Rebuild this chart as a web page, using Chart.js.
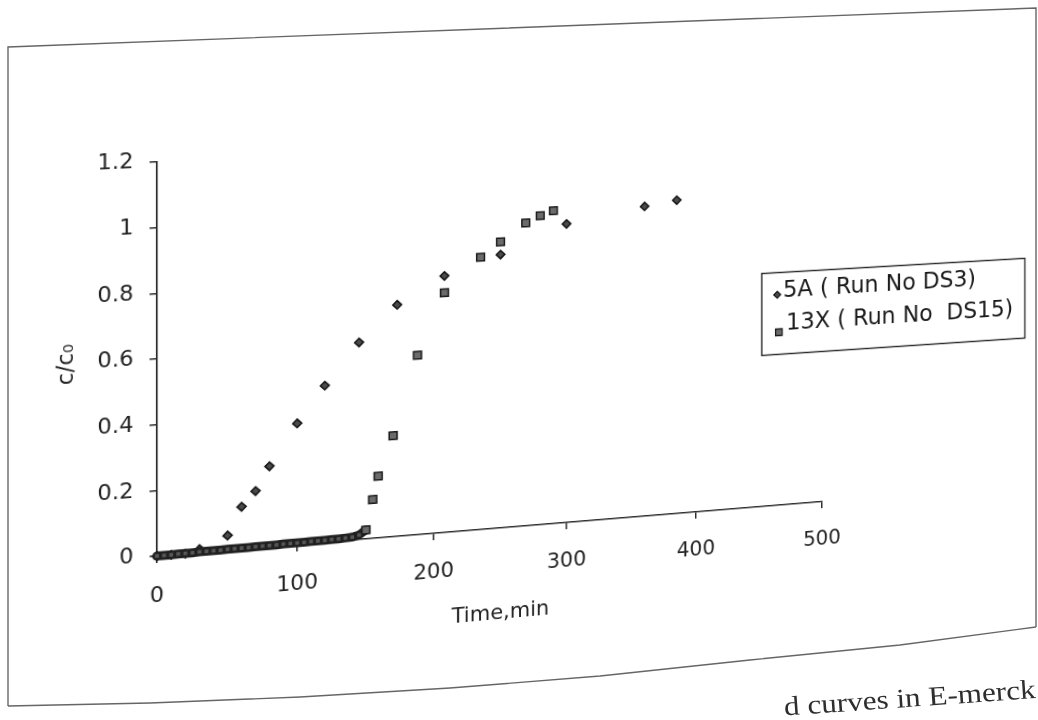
<!DOCTYPE html>
<html>
<head>
<meta charset="utf-8">
<script src="https://cdn.jsdelivr.net/npm/chart.js@4.4.1/dist/chart.umd.min.js"></script>
<style>
  html, body { margin: 0; padding: 0; background: #ffffff; overflow: hidden; width: 1038px; height: 720px; }
  /* the scanned page is photographed at an angle: a projective warp of the whole chart */
  #warp { position: absolute; left: 0; top: 0; width: 1080px; height: 760px; transform-origin: 0 0;
          transform: matrix3d(1.102991, -0.03034, 0, 0.000105199, 0, 1.016515, 0, 0, 0, 0, 1, 0, -13.577, 4.764, 0, 1); }
  #paper { position: absolute; left: 0; top: 0; }
</style>
</head>
<body>
<div id="warp"><canvas id="c" width="1080" height="760"></canvas></div>
<svg id="paper" width="1038" height="720">
  <polyline points="8,706 8,47 1036,8 1036,627" fill="none" stroke="#666" stroke-width="1.4"/>
  <polyline points="1036,627 900,645 750,660 600,676 450,688 300,697 150,703 8,706" fill="none" stroke="#666" stroke-width="1.4"/>
  <text x="1036" y="698" font-family="Liberation Serif, DejaVu Serif, serif" font-size="27" fill="#2e2e2e"
        text-anchor="end" textLength="252" lengthAdjust="spacingAndGlyphs" transform="rotate(-4 1036 698)">d curves in E-merck</text>
</svg>
<script>
// ---- data ----
const seriesNames = ['5A ( Run No DS3)', '13X ( Run No  DS15)'];

const timeDS3 = [0, 10, 20, 30, 50, 60, 70, 80, 100, 120, 145, 173, 208, 250, 300, 360, 385];
const cDS3    = [0, 0, 0, 0.01, 0.045, 0.13, 0.175, 0.248, 0.374, 0.485, 0.612, 0.722, 0.804, 0.861, 0.947, 0.99, 1.005];

const timeDS15 = [0, 5, 10, 15, 20, 25, 30, 35, 40, 45, 50, 55, 60, 65, 70, 75, 80, 85, 90, 95,
                  100, 105, 110, 115, 120, 125, 130, 135, 140, 145,
                  150, 155, 159, 170, 188, 208, 235, 250, 269, 280, 290];
const cDS15    = [0, 0, 0, 0.001, 0.001, 0.001, 0.002, 0.002, 0.002, 0.002,
                  0.003, 0.003, 0.003, 0.003, 0.004, 0.004, 0.004, 0.004, 0.005, 0.005,
                  0.005, 0.005, 0.006, 0.006, 0.006, 0.007, 0.007, 0.008, 0.009, 0.014,
                  0.028, 0.121, 0.192, 0.315, 0.561, 0.751, 0.856, 0.901, 0.957, 0.977, 0.991];

const xTickValues = [0, 100, 200, 300, 400, 500];
const xTickLabels = ['0', '100', '200', '300', '400', '500'];
const yTickValues = [0, 0.2, 0.4, 0.6, 0.8, 1, 1.2];
const yTickLabels = ['0', '0.2', '0.4', '0.6', '0.8', '1', '1.2'];
const xTitle = 'Time,min';
const yTitle = 'c/c\u2080';

// ---- chart ----
const ink = '#232323';
Chart.defaults.font.family = '"DejaVu Sans", "Liberation Sans", sans-serif';
Chart.defaults.color = ink;

const toPoints = (xs, ys) => xs.map((x, i) => ({ x: x, y: ys[i] }));

const diamondFill = '#4a4a4a', diamondEdge = '#111111';
const squareFill = '#6b6b6b', squareEdge = '#1a1a1a';
const bandColor = '#202020';
const bandEnd = 150;   // the dense early 13X readings merge into a thick band
const inBand = c => c.raw && c.raw.x < bandEnd;

const boxLegend = {
  id: 'boxLegend',
  afterDraw(chart) {
    const ctx = chart.ctx;
    ctx.save();
    ctx.strokeStyle = '#2a2a2a';
    ctx.lineWidth = 1.5;
    ctx.strokeRect(758, 308.5, 285.5, 87);
    ctx.font = '24px "DejaVu Sans", sans-serif';
    ctx.textBaseline = 'middle';
    ctx.textAlign = 'left';
    const textX = [780.5, 783.7], textY = [328.5, 364];
    const markX = [774.4, 776.1], markY = [332, 372];
    const fills = [diamondFill, squareFill], edges = [diamondEdge, squareEdge];
    chart.data.datasets.forEach((ds, i) => {
      ctx.fillStyle = fills[i];
      ctx.strokeStyle = edges[i];
      ctx.lineWidth = 1.3;
      ctx.beginPath();
      if (ds.pointStyle === 'rectRot') {
        const r = 3.6;
        ctx.moveTo(markX[i], markY[i] - r);
        ctx.lineTo(markX[i] + r, markY[i]);
        ctx.lineTo(markX[i], markY[i] + r);
        ctx.lineTo(markX[i] - r, markY[i]);
        ctx.closePath();
      } else {
        const h = 3.5;
        ctx.rect(markX[i] - h, markY[i] - h, 2 * h, 2 * h);
      }
      ctx.fill();
      ctx.stroke();
      ctx.fillStyle = '#1c1c1c';
      ctx.fillText(ds.label, textX[i], textY[i]);
    });
    ctx.restore();
  }
};

new Chart(document.getElementById('c'), {
  type: 'scatter',
  data: {
    datasets: [
      {
        label: seriesNames[0],
        data: toPoints(timeDS3, cDS3),
        pointStyle: 'rectRot',
        pointRadius: 4.3,
        pointBackgroundColor: diamondFill,
        pointBorderColor: diamondEdge,
        pointBorderWidth: 1.5,
        showLine: false,
        clip: false,
        order: 1
      },
      {
        label: seriesNames[1],
        data: toPoints(timeDS15, cDS15),
        pointStyle: 'rect',
        pointRadius: c => inBand(c) ? 2.6 : 5.5,
        pointBackgroundColor: c => inBand(c) ? '#575757' : squareFill,
        pointBorderColor: squareEdge,
        pointBorderWidth: c => inBand(c) ? 0 : 1.5,
        showLine: true,
        borderColor: bandColor,
        borderWidth: 9,
        borderCapStyle: 'round',
        borderJoinStyle: 'round',
        segment: { borderColor: c => (c.p1.parsed.x <= bandEnd ? bandColor : 'rgba(0,0,0,0)') },
        clip: false,
        order: 0
      }
    ]
  },
  options: {
    responsive: false,
    animation: false,
    events: [],
    layout: { padding: { left: 0, top: 162, right: 258, bottom: 0 } },
    plugins: { legend: { display: false }, tooltip: { enabled: false } },
    scales: {
      x: {
        type: 'linear', min: 0, max: 500,
        afterBuildTicks: s => { s.ticks = xTickValues.map(v => ({ value: v })); },
        afterFit: s => { s.height = 204; },
        grid: { display: true, drawOnChartArea: false, drawTicks: true, tickLength: 7, color: '#2a2a2a', lineWidth: 1.5 },
        border: { display: true, color: '#2a2a2a', width: 1.6 },
        ticks: { font: { size: 21 }, color: ink, padding: 21, maxRotation: 0, autoSkip: false,
                 callback: (v, i) => xTickLabels[i] },
        title: { display: true, text: xTitle, font: { size: 21 }, color: ink, padding: { top: 0, bottom: 102.5 } }
      },
      y: {
        type: 'linear', min: 0, max: 1.2,
        afterBuildTicks: s => { s.ticks = yTickValues.map(v => ({ value: v })); },
        afterFit: s => { s.width = 157; },
        grid: { display: true, drawOnChartArea: false, drawTicks: true, tickLength: 7, color: '#2a2a2a', lineWidth: 1.5 },
        border: { display: true, color: '#2a2a2a', width: 1.6 },
        ticks: { font: { size: 21 }, color: ink, padding: 15, autoSkip: false,
                 callback: (v, i) => yTickLabels[i] },
        title: { display: true, text: yTitle, font: { size: 22 }, color: ink, padding: { top: 60, bottom: 0 } }
      }
    }
  },
  plugins: [boxLegend]
});
</script>
</body>
</html>
